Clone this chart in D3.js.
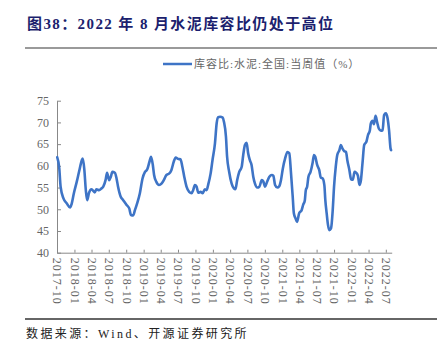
<!DOCTYPE html>
<html><head><meta charset="utf-8">
<script src="https://cdn.jsdelivr.net/npm/d3@7"></script>
<style>body{margin:0;background:#fff} svg{display:block}</style>
</head><body><svg id="c" width="443" height="355"></svg>
<script>
const dates = [
"2017-10-02","2017-10-13","2017-10-20","2017-11-04","2017-11-21","2017-12-09","2017-12-17","2017-12-29",
"2018-01-13","2018-01-27","2018-02-09","2018-02-14","2018-02-22","2018-03-02","2018-03-09","2018-03-19",
"2018-04-01","2018-04-18","2018-04-27","2018-05-11","2018-05-23","2018-06-02","2018-06-14","2018-06-22",
"2018-07-03","2018-07-12","2018-07-20","2018-08-02","2018-08-11","2018-08-19","2018-09-02","2018-09-15",
"2018-10-03","2018-10-17","2018-10-26","2018-11-07","2018-11-16","2018-11-28","2018-12-12","2018-12-26",
"2019-01-08","2019-01-20","2019-02-01","2019-02-09","2019-02-18","2019-02-25","2019-03-09","2019-03-23",
"2019-04-05","2019-04-17","2019-05-01","2019-05-15","2019-05-27","2019-06-09","2019-06-19","2019-07-01",
"2019-07-14","2019-07-24","2019-08-03","2019-08-15","2019-08-29","2019-09-11","2019-09-19","2019-09-28",
"2019-10-07","2019-10-16","2019-10-28","2019-11-08","2019-11-20","2019-11-29","2019-12-07","2019-12-20",
"2019-12-30","2020-01-12","2020-01-21","2020-01-29","2020-02-08","2020-02-22","2020-02-28","2020-03-10",
"2020-03-16","2020-03-27","2020-04-09","2020-04-21","2020-04-29","2020-05-08","2020-05-19","2020-06-01",
"2020-06-09","2020-06-18","2020-06-27","2020-07-05","2020-07-14","2020-07-23","2020-08-01","2020-08-10",
"2020-08-22","2020-09-02","2020-09-15","2020-09-23","2020-10-02","2020-10-11","2020-10-25","2020-11-07",
"2020-11-15","2020-11-24","2020-12-06","2020-12-16","2020-12-25","2021-01-04","2021-01-16","2021-01-28",
"2021-02-07","2021-02-16","2021-02-25","2021-03-03","2021-03-12","2021-03-20","2021-03-31","2021-04-13",
"2021-04-21","2021-04-30","2021-05-05","2021-05-12","2021-05-19","2021-05-30","2021-06-10","2021-06-17",
"2021-06-24","2021-07-04","2021-07-15","2021-07-23","2021-08-02","2021-08-11","2021-08-16","2021-08-23",
"2021-08-30","2021-09-06","2021-09-15","2021-09-24","2021-10-01","2021-10-10","2021-10-18","2021-10-29",
"2021-11-06","2021-11-14","2021-11-23","2021-12-03","2021-12-10","2021-12-21","2021-12-30","2022-01-08",
"2022-01-17","2022-01-26","2022-02-04","2022-02-12","2022-02-19","2022-02-28","2022-03-09","2022-03-21",
"2022-03-29","2022-04-08","2022-04-13","2022-04-22","2022-04-29","2022-05-08","2022-05-16","2022-05-25",
"2022-06-05","2022-06-14","2022-06-22","2022-07-01","2022-07-10","2022-07-18","2022-07-26","2022-07-29"
];
const values = [
62.0,59.4,55.2,52.5,51.4,50.4,51.2,53.7,
56.3,59.0,61.3,61.7,59.2,54.4,52.1,53.8,
54.6,53.9,54.6,54.4,54.8,55.2,56.7,58.4,
56.7,57.5,58.6,58.4,57.1,55.2,52.9,52.1,
51.0,50.2,48.7,48.6,49.8,51.4,53.7,57.1,
58.6,59.2,61.0,62.1,60.3,57.9,56.3,55.6,
55.9,56.7,57.9,58.2,59.0,61.0,61.9,61.6,
61.5,59.8,57.5,55.2,54.0,53.7,54.4,55.6,
55.2,53.8,54.0,53.7,54.6,54.4,55.6,58.2,
61.3,65.2,69.8,71.2,71.3,71.1,70.2,66.7,
62.1,58.6,55.9,54.8,54.6,56.7,58.6,59.8,
62.5,64.8,65.3,62.9,61.3,60.2,57.5,55.9,
55.0,55.2,56.7,56.4,55.2,56.1,57.5,57.9,
57.7,55.6,55.0,55.3,56.7,59.4,61.7,63.2,
62.9,58.3,52.9,49.1,47.9,47.1,49.1,49.8,
51.0,52.1,54.4,55.2,57.5,58.6,60.7,62.5,
62.1,60.2,59.0,57.3,57.1,55.5,52.1,49.1,
46.4,45.2,45.6,49.8,55.2,59.8,62.5,63.6,
64.8,64.0,63.4,63.2,61.3,59.0,56.9,56.8,
58.6,58.4,57.7,55.6,56.5,60.6,64.8,65.6,
67.1,68.2,69.8,70.4,69.6,71.5,70.1,68.6,
68.1,68.2,71.7,72.1,71.0,68.2,64.0,63.6
];
const tickDates = ["2017-10-01","2018-01-01","2018-04-01","2018-07-01","2018-10-01","2019-01-01","2019-04-01","2019-07-01","2019-10-01","2020-01-01","2020-04-01","2020-07-01","2020-10-01","2021-01-01","2021-04-01","2021-07-01","2021-10-01","2022-01-01","2022-04-01","2022-07-01"];
const tickLabels = ["2017-10","2018-01","2018-04","2018-07","2018-10","2019-01","2019-04","2019-07","2019-10","2020-01","2020-04","2020-07","2020-10","2021-01","2021-04","2021-07","2021-10","2022-01","2022-04","2022-07"];
const yTicks = [40,45,50,55,60,65,70,75];
const titleText = "图38：2022 年 8 月水泥库容比仍处于高位";
const legendLabel = "库容比:水泥:全国:当周值（%）";
const sourceText = "数据来源：Wind、开源证券研究所";

const svg = d3.select("#c");
const parse = d3.utcParse("%Y-%m-%d");
const serif = "'Liberation Serif','Noto Sans CJK SC',serif";
const lineColor = "#3e74c6";

const x = d3.scaleUtc().domain([parse("2017-10-01"), parse("2022-08-01")]).range([57, 391.7]);
const y = d3.scaleLinear().domain([40, 75]).range([252.7, 100.7]);

// title
svg.append("text").attr("x", 27).attr("y", 29)
  .attr("font-family", serif).attr("font-weight", "bold").attr("font-size", 15)
  .attr("letter-spacing", 1.4).attr("fill", "#1c1f6e").text(titleText);
svg.append("line").attr("x1", 25).attr("x2", 437).attr("y1", 48).attr("y2", 48)
  .attr("stroke", "#9a9a9a").attr("stroke-width", 2);

// legend
svg.append("line").attr("x1", 163).attr("x2", 192).attr("y1", 64).attr("y2", 64)
  .attr("stroke", lineColor).attr("stroke-width", 2.5);
svg.append("text").attr("x", 194).attr("y", 68)
  .attr("font-family", serif).attr("font-size", 11).attr("letter-spacing", 1)
  .attr("fill", "#666").text(legendLabel);

// y axis
const yAxis = d3.axisLeft(y).tickValues(yTicks).tickSize(-4).tickSizeOuter(0).tickPadding(8);
const gy = svg.append("g").attr("transform", "translate(57,0)").call(yAxis);
gy.select(".domain").attr("stroke", "#888");
gy.selectAll(".tick line").attr("stroke", "#888");
gy.selectAll("text").attr("font-family", serif).attr("font-size", 12).attr("fill", "#666");

// x axis
const xAxis = d3.axisBottom(x).tickValues(tickDates.map(parse)).tickSize(-3).tickSizeOuter(0)
  .tickFormat((d, i) => tickLabels[i]);
const gx = svg.append("g").attr("transform", "translate(0,252.7)").call(xAxis);
gx.select(".domain").attr("stroke", "#888");
gx.selectAll(".tick line").attr("stroke", "#888");
gx.selectAll("text").attr("font-family", serif).attr("font-size", 12).attr("letter-spacing", 1)
  .attr("fill", "#666")
  .attr("text-anchor", "start").attr("transform", "rotate(90)")
  .attr("x", 5).attr("y", 0).attr("dy", "0.35em");

// line
const data = dates.map((d, i) => ({ d: parse(d), v: values[i] }));
svg.append("path").datum(data)
  .attr("fill", "none").attr("stroke", lineColor).attr("stroke-width", 2.6)
  .attr("stroke-linejoin", "round").attr("stroke-linecap", "round")
  .attr("d", d3.line().x(p => x(p.d)).y(p => y(p.v)).curve(d3.curveMonotoneX));

// bottom rule and source
svg.append("line").attr("x1", 25).attr("x2", 437).attr("y1", 319).attr("y2", 319)
  .attr("stroke", "#666").attr("stroke-width", 2);
svg.append("text").attr("x", 26).attr("y", 338)
  .attr("font-family", serif).attr("font-size", 12).attr("letter-spacing", 2.4)
  .attr("fill", "#222").text(sourceText);
</script></body></html>
